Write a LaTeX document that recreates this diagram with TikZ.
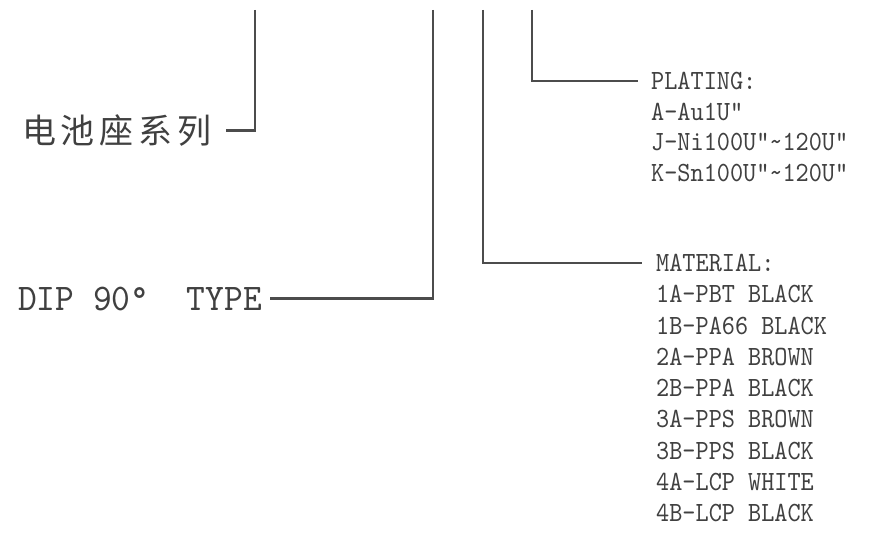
\documentclass[tikz,border=0pt]{standalone}
\usepackage{fontspec}
\newfontfamily\monoA[FakeStretch=0.9]{lmmono10-regular.otf}
\newfontfamily\monoB[FakeStretch=0.95]{lmmono10-regular.otf}
\newfontfamily\cjk[LetterSpace=14]{Noto Sans CJK SC}
\begin{document}
\begin{tikzpicture}[x=1pt,y=-1pt,
  conn/.style={draw=black!70, line width=2.6pt},
  txt/.style={text=black!75, inner sep=0pt},
  small/.style={txt, anchor=base west, font=\monoA\fontsize{27.8}{27.8}\selectfont},
  big/.style={txt, anchor=base west, font=\monoB\fontsize{37.6}{37.6}\selectfont}]
\useasboundingbox[fill=white] (0,0) rectangle (872,535);
% free ends at top
\coordinate (t1) at (255,10);
\coordinate (t2) at (433,10);
\coordinate (t3) at (483,10);
\coordinate (t4) at (532,10);
% left labels
\node[txt, anchor=base west, font=\cjk\fontsize{34}{34}\selectfont] (cn) at (22,143.6) {电池座系列};
\node[big] (dip) at (18,310) {DIP 90°\ \ TYPE};
% plating
\node[small] (ph) at (651,89.6) {PLATING:};
\node[small] (p1) at (651,120.1) {A-Au1U"};
\node[small] (p2) at (651,150.6) {J-Ni100U"\textasciitilde120U"};
\node[small] (p3) at (651,181.1) {K-Sn100U"\textasciitilde120U"};
% material
\node[small] (mh) at (656,271.5) {MATERIAL:};
\foreach \t [count=\k] in {1A-PBT BLACK,1B-PA66 BLACK,2A-PPA BROWN,2B-PPA BLACK,3A-PPS BROWN,3B-PPS BLACK,4A-LCP WHITE,4B-LCP BLACK}
  \node[small] (m\k) at (656,271.5+\k*31.25) {\t};
% connectors
\draw[conn] (t1) |- ([xshift=15pt]cn.east);
\draw[conn] (t2) |- ([xshift=8pt]dip.east);
\draw[conn] (t3) |- ([xshift=-14pt]mh.west);
\draw[conn] (t4) |- ([xshift=-13pt]ph.west);
\end{tikzpicture}
\end{document}
